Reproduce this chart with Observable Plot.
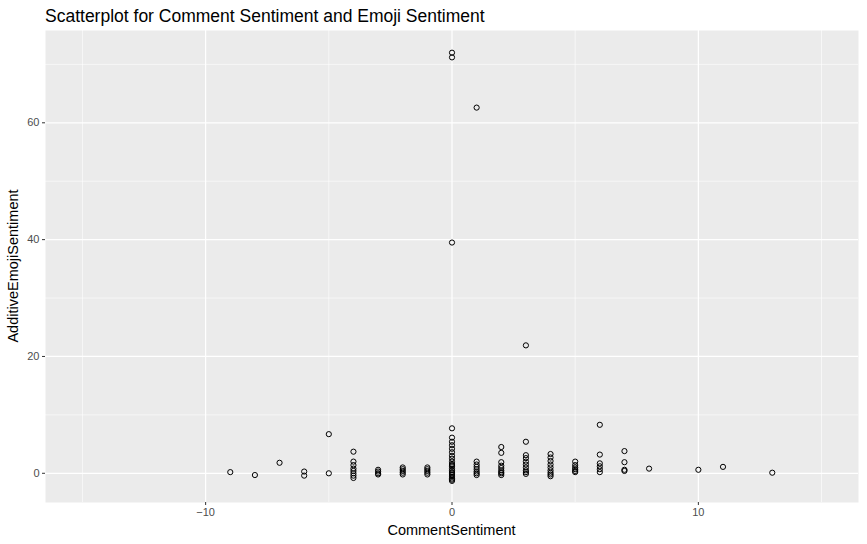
<!DOCTYPE html>
<html><head><meta charset="utf-8">
<script src="https://cdn.jsdelivr.net/npm/d3@7"></script>
<script src="https://cdn.jsdelivr.net/npm/@observablehq/plot@0.6"></script>
<style>
body{margin:0;background:#fff;font-family:"Liberation Sans",Arial,sans-serif;}
#title{height:30px;line-height:30px;padding-left:45px;font-size:17.5px;color:#000;box-sizing:border-box;padding-top:1px}
</style></head><body>
<div id="title">Scatterplot for Comment Sentiment and Emoji Sentiment</div>
<div id="chart"></div>
<script>
const commentSentiment = [-9,-8,-7,-6,-6,-5,-5,
 -4,-4,-4,-4,-4,-4,-4,-4,
 -3,-3,-3,-3,
 -2,-2,-2,-2,-2,
 -1,-1,-1,-1,-1,
 0,0,0,0,0,0,0,0,0,0,0,0,0,0,0,0,0,0,0,0,0,0,0,0,
 1,1,1,1,1,1,1,1,
 2,2,2,2,2,2,2,2,2,
 3,3,3,3,3,3,3,3,3,3,
 4,4,4,4,4,4,4,4,4,
 5,5,5,5,5,5,
 6,6,6,6,6,6,
 7,7,7,7,
 8,10,11,13];
const emojiSentiment = [0.2,-0.3,1.8,0.3,-0.4,6.7,0,
 3.7,2.0,1.4,0.8,0.4,0,-0.4,-0.8,
 0.6,0.3,0,-0.2,
 1.0,0.7,0.4,0.1,-0.2,
 1.0,0.7,0.4,0.1,-0.2,
 72,71.2,39.5,7.7,6.1,5.4,4.8,4.2,3.6,3.0,2.5,2.0,1.6,1.2,0.8,0.5,0.2,0,-0.3,-0.6,-0.9,-1.1,-1.3,1.4,
 62.6,2.0,1.5,1.1,0.7,0.3,0,-0.3,
 4.5,3.5,1.9,1.3,0.9,0.5,0.2,0,-0.3,
 21.9,5.4,3.1,2.6,2.0,1.5,1.0,0.5,0.2,-0.1,
 3.3,2.7,2.1,1.5,1.0,0.5,0.1,-0.2,-0.5,
 2.0,1.4,1.0,0.7,0.4,0.2,
 8.3,3.2,1.7,1.2,0.7,0.2,
 3.8,1.9,0.6,0.4,
 0.8,0.6,1.1,0.1];
const data = commentSentiment.map((x,i)=>({x, y:emojiSentiment[i]}));
const xMajor=[-10,0,10], xMinor=[-15,-5,5,15];
const yMajor=[0,20,40,60], yMinor=[10,30,50,70];
const plot = Plot.plot({
  width:867, height:514,
  marginLeft:45, marginRight:9, marginTop:0, marginBottom:42,
  style:{fontFamily:"Liberation Sans, Arial, sans-serif", fontSize:"11px", color:"#4D4D4D"},
  x:{domain:[-16.5,16.5]},
  y:{domain:[-5,75.8]},
  marks:[
    Plot.frame({fill:"#EBEBEB", stroke:null}),
    Plot.gridX(xMinor,{stroke:"#fff",strokeOpacity:1,strokeWidth:0.6}),
    Plot.gridY(yMinor,{stroke:"#fff",strokeOpacity:1,strokeWidth:0.6}),
    Plot.gridX(xMajor,{stroke:"#fff",strokeOpacity:1,strokeWidth:1.2}),
    Plot.gridY(yMajor,{stroke:"#fff",strokeOpacity:1,strokeWidth:1.2}),
    Plot.axisX(xMajor,{tickSize:3,stroke:"#333",fill:"#4D4D4D",fontSize:11,label:null,tickPadding:3}),
    Plot.axisY(yMajor,{tickSize:3,stroke:"#333",fill:"#4D4D4D",fontSize:11,label:null,tickPadding:3}),
    Plot.dot(data,{x:"x",y:"y",r:2.6,stroke:"#000",strokeWidth:1,fill:"none"})
  ]
});
const svg = d3.select(plot);
svg.append("text").attr("x",(45+858)/2).attr("y",505).attr("text-anchor","middle")
  .attr("font-size",14.5).attr("fill","#000").text("CommentSentiment");
svg.append("text").attr("transform","translate(18,236) rotate(-90)").attr("text-anchor","middle")
  .attr("font-size",14.5).attr("fill","#000").text("AdditiveEmojiSentiment");
document.getElementById("chart").appendChild(plot);
</script></body></html>
